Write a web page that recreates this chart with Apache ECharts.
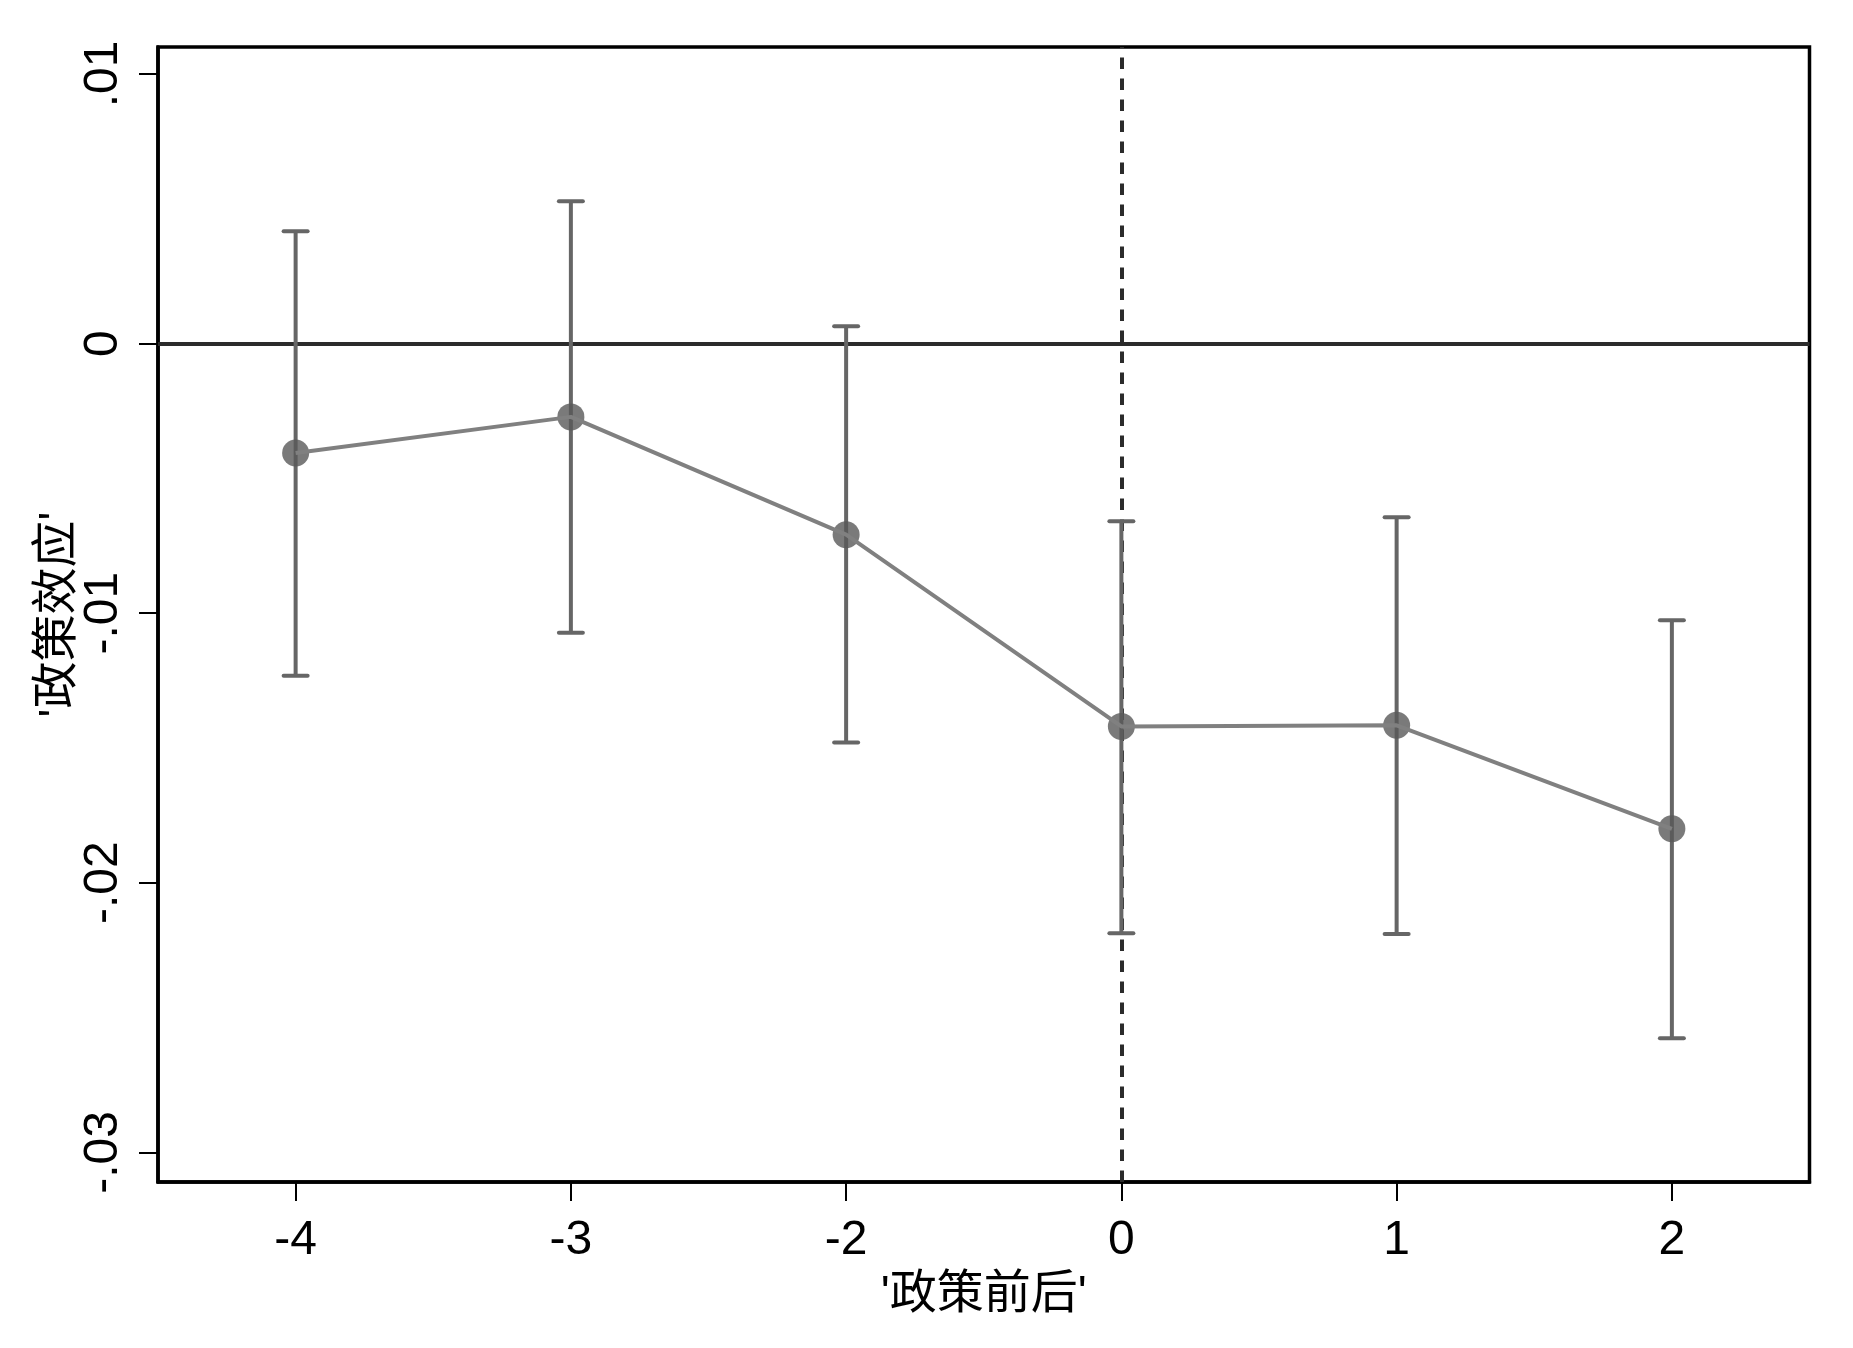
<!DOCTYPE html>
<html>
<head>
<meta charset="utf-8">
<script src="https://cdn.jsdelivr.net/npm/echarts@6/dist/echarts.min.js"></script>
<style>
html,body{margin:0;padding:0;background:#fff;}
#chart{width:1853px;height:1348px;}
</style>
</head>
<body>
<div id="chart"></div>
<script>
// ---- data ----
const categories = ['-4', '-3', '-2', '0', '1', '2'];
const coef  = [-0.00406, -0.00272, -0.00709, -0.01420, -0.01416, -0.01800];
const upper = [ 0.00417,  0.00528,  0.00064, -0.00659, -0.00644, -0.01026];
const lower = [-0.01232, -0.01073, -0.01480, -0.02187, -0.02190, -0.02577];
const yTickValues = [-0.03, -0.02, -0.01, 0, 0.01];
const yTickLabels = ['-.03', '-.02', '-.01', '0', '.01'];
const yMin = -0.0311, yMax = 0.0110;
const eventCategory = '0';
const xTitle = "'政策前后'";
const yTitle = "'政策效应'";

const FONT = "'Liberation Sans', Arial, 'Noto Sans CJK SC', sans-serif";

const chart = echarts.init(document.getElementById('chart'), null, {renderer: 'canvas'});

const ciData = categories.map((c, i) => [i, lower[i], upper[i]]);

const option = {
  backgroundColor: '#ffffff',
  animation: false,
  grid: {
    left: 158, right: 43.5, top: 47, bottom: 166,
    show: true, borderColor: '#000', borderWidth: 3.5, backgroundColor: '#fff'
  },
  xAxis: {
    type: 'category',
    data: categories,
    boundaryGap: true,
    name: xTitle,
    nameLocation: 'middle',
    nameGap: 90,
    nameMoveOverlap: false,
    nameTextStyle: {fontSize: 47, color: '#000', fontFamily: FONT},
    axisLine: {show: true, onZero: false, lineStyle: {color: '#000', width: 3.5}},
    axisTick: {show: true, alignWithLabel: true, length: 19, lineStyle: {color: '#000', width: 2}},
    axisLabel: {fontSize: 48, color: '#000', margin: 35, fontFamily: FONT},
    splitLine: {show: false}
  },
  yAxis: {
    type: 'value',
    min: yMin, max: yMax,
    name: yTitle,
    nameLocation: 'middle',
    nameGap: 76,
    nameMoveOverlap: false,
    nameRotate: 90,
    nameTextStyle: {fontSize: 47, color: '#000', fontFamily: FONT},
    axisLine: {show: true, onZero: false, lineStyle: {color: '#000', width: 3.5}},
    axisTick: {show: true, length: 19, customValues: yTickValues, lineStyle: {color: '#000', width: 2}},
    axisLabel: {
      fontSize: 48, color: '#000', margin: 30, rotate: 90, fontFamily: FONT,
      customValues: yTickValues,
      formatter: function (v) {
        for (let i = 0; i < yTickValues.length; i++) {
          if (Math.abs(yTickValues[i] - v) < 1e-9) return yTickLabels[i];
        }
        return '';
      }
    },
    splitLine: {show: false}
  },
  series: [
    {
      type: 'custom',
      name: 'ci',
      z: 2,
      data: ciData,
      renderItem: function (params, api) {
        const x = api.value(0);
        const lo = api.coord([x, api.value(1)]);
        const hi = api.coord([x, api.value(2)]);
        const hw = 12;
        const style = {stroke: '#666666', lineWidth: 4, lineCap: 'round'};
        return {
          type: 'group',
          children: [
            {type: 'line', shape: {x1: lo[0], y1: lo[1], x2: hi[0], y2: hi[1]}, style: {stroke: '#666666', lineWidth: 4}},
            {type: 'line', shape: {x1: hi[0] - hw, y1: hi[1], x2: hi[0] + hw, y2: hi[1]}, style: style},
            {type: 'line', shape: {x1: lo[0] - hw, y1: lo[1], x2: lo[0] + hw, y2: lo[1]}, style: style}
          ]
        };
      },
      markLine: {
        silent: true,
        symbol: ['none', 'none'],
        label: {show: false},
        z: 1,
        data: [
          {yAxis: 0, lineStyle: {color: '#2b2b2b', width: 4, type: 'solid'}},
          {xAxis: categories.indexOf(eventCategory), lineStyle: {color: '#2b2b2b', width: 4, type: [11.5, 9.5]}}
        ]
      }
    },
    {
      type: 'scatter',
      name: 'point',
      z: 3,
      data: coef,
      symbol: 'circle',
      symbolSize: 27,
      itemStyle: {color: '#595959'}
    },
    {
      type: 'line',
      name: 'line',
      z: 4,
      data: coef,
      showSymbol: false,
      symbol: 'none',
      lineStyle: {color: '#808080', width: 4}
    }
  ]
};

chart.setOption(option);
</script>
</body>
</html>
